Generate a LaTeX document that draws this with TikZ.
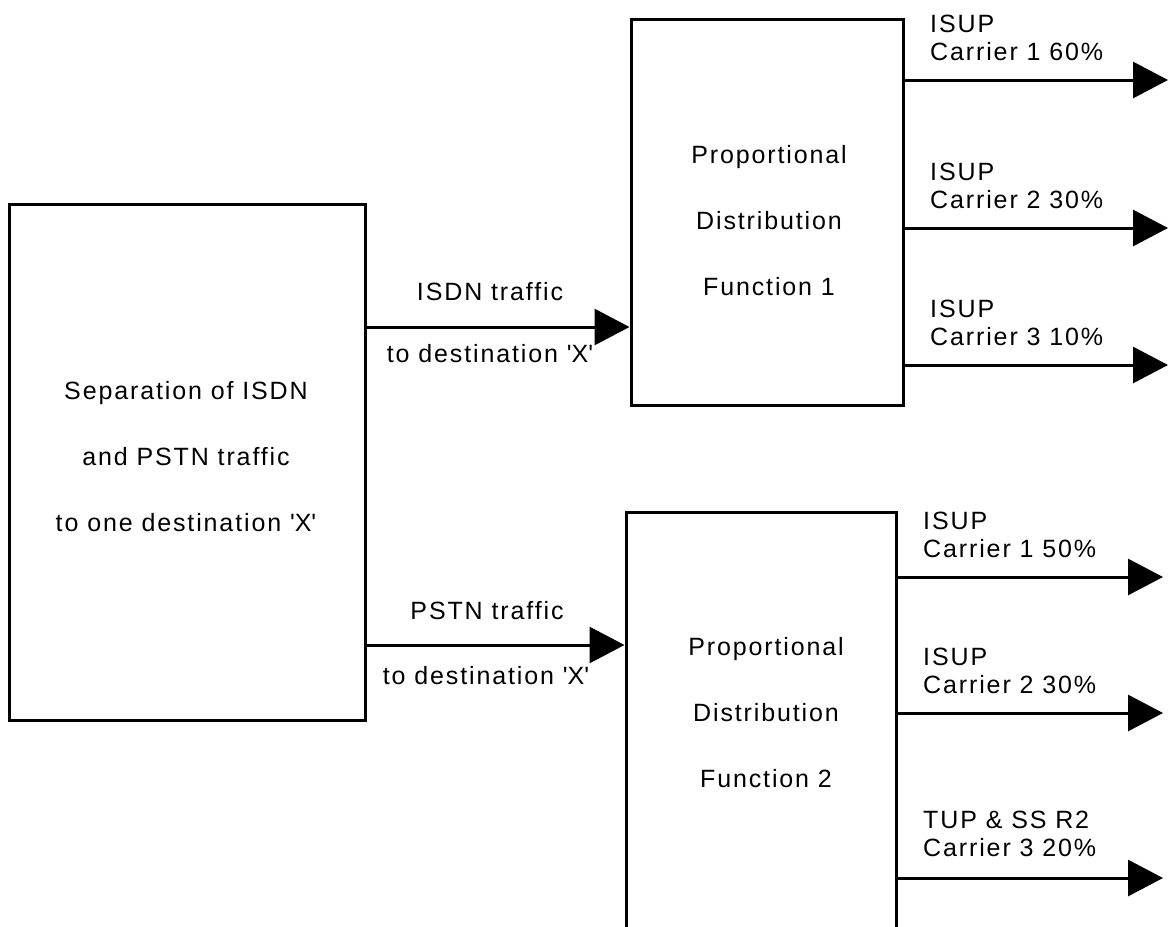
\documentclass[tikz,border=0pt]{standalone}
\usepackage{fontspec}
\setmainfont{Liberation Sans}[LetterSpace=7.5]
\usetikzlibrary{arrows.meta}

\newcommand{\sq}{\textquotesingle}

\tikzset{
  blk/.style={draw=black, line width=3pt, fill=none, inner sep=0pt},
  lbl/.style={inner sep=0pt, font=\fontsize{25}{66}\selectfont, align=center},
  outlbl/.style={inner sep=0pt, font=\fontsize{25}{28}\selectfont, align=left, anchor=south west},
  flow/.style={line width=3pt, -{Triangle[length=35pt,width=36pt]}},
}

\begin{document}
\begin{tikzpicture}[x=1pt,y=-1pt]
\useasboundingbox (0,0) rectangle (1174,926);
\clip (0,0) rectangle (1174,926);

% the three function blocks
\node[blk, minimum width=356pt, minimum height=516pt] (sep) at (187,462) {};
\node[blk, minimum width=272pt, minimum height=386pt] (pdf1) at (767,212) {};
\node[blk, minimum width=270pt, minimum height=600pt] (pdf2) at (761,812) {};

% block texts
\node[lbl] (septxt) at (186,457) {Separation of ISDN\\and PSTN traffic\\to one destination \sq X\sq};
\node[lbl] (pdf1txt) at (769,221) {Proportional\\Distribution\\Function 1};
\node[lbl] (pdf2txt) at (766,713) {Proportional\\Distribution\\Function 2};

% traffic split into the two distribution functions
\coordinate (yisdn) at (0,327);
\coordinate (ypstn) at (0,645);
\draw[flow] (sep.east |- yisdn) -- (pdf1.west |- yisdn);
\draw[flow] (sep.east |- ypstn) -- (pdf2.west |- ypstn);
\node[lbl] (isdna) at (490,292) {ISDN traffic};
\node[lbl] (isdnb) at (490,354) {to destination \sq X\sq};
\node[lbl] (pstna) at (487,611) {PSTN traffic};
\node[lbl] (pstnb) at (486,676) {to destination \sq X\sq};

% carriers of function 1
\coordinate (c11) at (1168,80);
\coordinate (c12) at (1168,228);
\coordinate (c13) at (1168,365);
\draw[flow] (pdf1.east |- c11) -- (c11);
\draw[flow] (pdf1.east |- c12) -- (c12);
\draw[flow] (pdf1.east |- c13) -- (c13);
\node[outlbl] (l11) at (930,61) {ISUP\\Carrier 1 60\%};
\node[outlbl] (l12) at (930,209) {ISUP\\Carrier 2 30\%};
\node[outlbl] (l13) at (930,346) {ISUP\\Carrier 3 10\%};

% carriers of function 2
\coordinate (c21) at (1163,577);
\coordinate (c22) at (1163,713);
\coordinate (c23) at (1163,878);
\draw[flow] (pdf2.east |- c21) -- (c21);
\draw[flow] (pdf2.east |- c22) -- (c22);
\draw[flow] (pdf2.east |- c23) -- (c23);
\node[outlbl] (l21) at (923,558) {ISUP\\Carrier 1 50\%};
\node[outlbl] (l22) at (923,694) {ISUP\\Carrier 2 30\%};
\node[outlbl] (l23) at (923,857) {TUP \& SS R2\\Carrier 3 20\%};
\end{tikzpicture}
\end{document}
